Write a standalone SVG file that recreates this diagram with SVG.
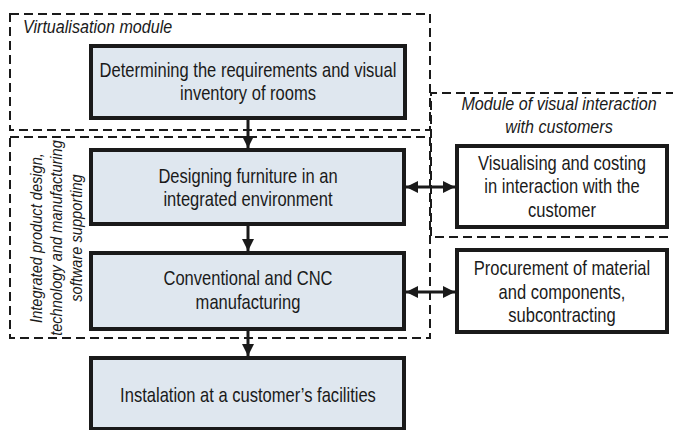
<svg xmlns="http://www.w3.org/2000/svg" width="673" height="430" viewBox="0 0 673 430">
<style>
.mod{fill:none;stroke:#1a1a1a;stroke-width:2;stroke-dasharray:9 5}
.box{fill:#dfe7ef;stroke:#1a1a1a;stroke-width:4}
.wbox{fill:#ffffff;stroke:#1a1a1a;stroke-width:4}
.t{font-family:"Liberation Sans",Arial,sans-serif;font-size:20px;fill:#1a1a1a;text-anchor:middle}
.it{font-family:"Liberation Sans",Arial,sans-serif;font-size:18px;font-style:italic;fill:#1a1a1a}
.rt{font-size:17px}
.c{text-anchor:middle}
.ln{fill:none;stroke:#1a1a1a;stroke-width:3}
</style>
<defs>
<marker id="ah" viewBox="0 0 10 10" refX="10" refY="5" markerWidth="4" markerHeight="4" orient="auto-start-reverse" markerUnits="strokeWidth">
<path d="M0,0 L10,5 L0,10 z" fill="#1a1a1a"/>
</marker>
</defs>
<g id="modules">
<rect id="mod-virtualisation" class="mod" x="10" y="14" width="420" height="116"/>
<rect id="mod-integrated" class="mod" x="10" y="137" width="420" height="201"/>
<path id="mod-interaction" class="mod" d="M675,93 H431 V237 H675"/>
<text class="it" transform="translate(23 33) scale(0.895 1)">Virtualisation module</text>
<text class="it c" transform="translate(559 110) scale(0.895 1)">Module of visual interaction</text>
<text class="it c" transform="translate(559 133) scale(0.895 1)">with customers</text>
<text class="it rt c" transform="translate(42 238) rotate(-90) scale(0.86 1)">Integrated product design,</text>
<text class="it rt c" transform="translate(62 238) rotate(-90) scale(0.86 1)">technology and manufacturing</text>
<text class="it rt c" transform="translate(82 238) rotate(-90) scale(0.86 1)">software supporting</text>
</g>
<g id="connectors">
<line class="ln" x1="248" y1="118" x2="248" y2="148" marker-end="url(#ah)"/>
<line class="ln" x1="248" y1="224" x2="248" y2="251" marker-end="url(#ah)"/>
<line class="ln" x1="248" y1="329" x2="248" y2="356" marker-end="url(#ah)"/>
<line class="ln" x1="406" y1="187" x2="455" y2="187" marker-start="url(#ah)" marker-end="url(#ah)"/>
<line class="ln" x1="406" y1="292" x2="455" y2="292" marker-start="url(#ah)" marker-end="url(#ah)"/>
</g>
<g id="n-determining">
<rect class="box" x="91" y="46" width="314" height="72"/>
<text class="t" transform="translate(248 77) scale(0.827 1)">Determining the requirements and visual</text>
<text class="t" transform="translate(248 100) scale(0.827 1)">inventory of rooms</text>
</g>
<g id="n-designing">
<rect class="box" x="91" y="150" width="313" height="74"/>
<text class="t" transform="translate(248 183) scale(0.827 1)">Designing furniture in an</text>
<text class="t" transform="translate(248 206) scale(0.827 1)">integrated environment</text>
</g>
<g id="n-manufacturing">
<rect class="box" x="91" y="253" width="313" height="76"/>
<text class="t" transform="translate(248 285) scale(0.827 1)">Conventional and CNC</text>
<text class="t" transform="translate(248 309) scale(0.827 1)">manufacturing</text>
</g>
<g id="n-instalation">
<rect class="box" x="91" y="358" width="313" height="71"/>
<text class="t" transform="translate(248 402) scale(0.827 1)">Instalation at a customer’s facilities</text>
</g>
<g id="n-visualising">
<rect class="wbox" x="457" y="146" width="210" height="81"/>
<text class="t" transform="translate(562 170) scale(0.827 1)">Visualising and costing</text>
<text class="t" transform="translate(562 193) scale(0.827 1)">in interaction with the</text>
<text class="t" transform="translate(562 217) scale(0.827 1)">customer</text>
</g>
<g id="n-procurement">
<rect class="wbox" x="457" y="250" width="210" height="82"/>
<text class="t" transform="translate(562 275) scale(0.827 1)">Procurement of material</text>
<text class="t" transform="translate(562 299) scale(0.827 1)">and components,</text>
<text class="t" transform="translate(562 322) scale(0.827 1)">subcontracting</text>
</g>
</svg>
